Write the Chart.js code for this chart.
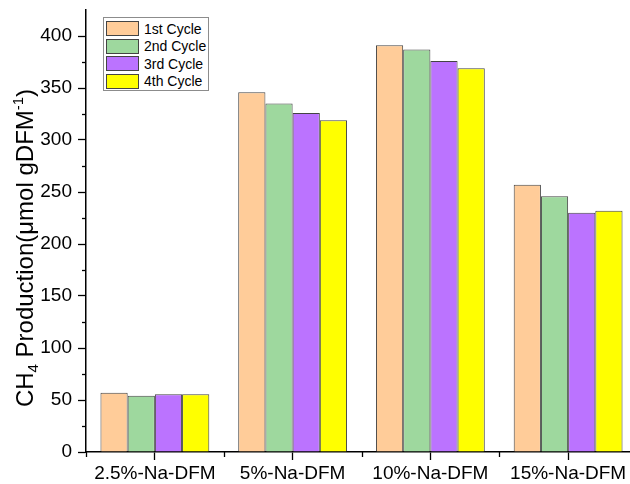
<!DOCTYPE html>
<html>
<head>
<meta charset="utf-8">
<script src="https://cdn.jsdelivr.net/npm/chart.js@4.4.1/dist/chart.umd.min.js"></script>
<style>
  html, body { margin:0; padding:0; background:#fff; overflow:hidden; }
  #wrap { position:relative; width:650px; height:484px; }
  #legend { position:absolute; left:103px; top:17px; width:106px; height:74px;
    border:1px solid #8c8c8c; background:#fff; box-sizing:border-box;
    font-family:"Liberation Sans", Arial, sans-serif; font-size:14px; color:#000; }
  #legend .row { position:absolute; left:2px; height:15px; display:flex; align-items:center; white-space:nowrap; }
  #legend .sw { width:31px; height:13px; border:1px solid #444; margin-right:5px; flex:none; }
</style>
</head>
<body>
<div id="wrap">
  <canvas id="chart"></canvas>
  <div id="legend"></div>
</div>
<script>
/* data */
const categories = ['2.5%-Na-DFM', '5%-Na-DFM', '10%-Na-DFM', '15%-Na-DFM'];
const cycleNames = ['1st Cycle', '2nd Cycle', '3rd Cycle', '4th Cycle'];
const cycle1 = [57, 346, 391, 257];
const cycle2 = [54, 335, 387, 246];
const cycle3 = [55.5, 326, 376, 230];
const cycle4 = [55.5, 319, 369, 232];
const yTicks = [0, 50, 100, 150, 200, 250, 300, 350, 400];
const colors = ['#FFCC99', '#9ED89E', '#BB73FF', '#FFFF00'];

const FONT = '"Liberation Sans", Arial, sans-serif';

/* minor ticks + y title with sub/superscript */
const extras = {
  id: 'extras',
  afterDraw(chart){
    const ctx = chart.ctx, x = chart.scales.x, y = chart.scales.y;
    const left = chart.chartArea.left, bottom = chart.chartArea.bottom;
    ctx.save();
    ctx.strokeStyle = '#000';
    ctx.lineWidth = 1.3;
    // minor y ticks
    for(let v = 25; v < 425; v += 50){
      const py = Math.round(y.getPixelForValue(v)) + 0.5;
      ctx.beginPath(); ctx.moveTo(left - 4, py); ctx.lineTo(left, py); ctx.stroke();
    }
    // minor x ticks at category boundaries
    for(let i = -0.5; i < categories.length; i += 1){
      const px = Math.round(x.getPixelForValue(i)) + 0.5;
      ctx.beginPath(); ctx.moveTo(px, bottom); ctx.lineTo(px, bottom + 5); ctx.stroke();
    }
    // y title
    const parts = [
      {t:'CH', s:24, dy:0},
      {t:'4', s:15, dy:5},
      {t:' Production(\u03bcmol gDFM', s:24, dy:0},
      {t:'-1', s:15, dy:-10},
      {t:')', s:24, dy:0}
    ];
    let total = 0;
    parts.forEach(p => { ctx.font = p.s + 'px ' + FONT; p.w = ctx.measureText(p.t).width; total += p.w; });
    ctx.translate(33, 248);
    ctx.rotate(-Math.PI/2);
    ctx.fillStyle = '#000';
    ctx.textBaseline = 'alphabetic';
    let cx = -total/2;
    parts.forEach(p => { ctx.font = p.s + 'px ' + FONT; ctx.fillText(p.t, cx, p.dy); cx += p.w; });
    ctx.restore();
  }
};

const series = [cycle1, cycle2, cycle3, cycle4];
const datasets = series.map((d, i) => ({
  label: cycleNames[i],
  data: d,
  backgroundColor: colors[i],
  borderColor: '#444',
  borderWidth: 1,
  borderSkipped: 'bottom',
  categoryPercentage: 0.79,
  barPercentage: 1.0
}));

new Chart(document.getElementById('chart'), {
  type: 'bar',
  data: { labels: categories, datasets },
  options: {
    responsive: true,
    maintainAspectRatio: false,
    animation: false,
    layout: { padding: { left: 0, right: 13, top: 10, bottom: 0 } },
    plugins: { legend: { display: false }, tooltip: { enabled: false } },
    scales: {
      x: {
        offset: true,
        grid: { offset: false, drawOnChartArea: false, tickLength: 8, tickColor: '#000', tickWidth: 1.3 },
        border: { color: '#000', width: 1.5 },
        ticks: { color: '#000', font: { family: FONT, size: 19 }, padding: 2, maxRotation: 0 },
        afterFit: s => { s.height = 32; s.paddingLeft = 0; s.paddingRight = 0; }
      },
      y: {
        min: 0, max: 425,
        afterBuildTicks: s => { s.ticks = yTicks.map(v => ({ value: v })); },
        grid: { drawOnChartArea: false, tickLength: 8, tickColor: '#000', tickWidth: 1.3 },
        border: { color: '#000', width: 1.5 },
        ticks: { color: '#000', font: { family: FONT, size: 19 }, padding: 6 },
        afterFit: s => { s.width = 86; s.paddingTop = 0; s.paddingBottom = 0; }
      }
    }
  },
  plugins: [extras]
});

/* html legend built from the datasets */
const legend = document.getElementById('legend');
datasets.forEach((ds, i) => {
  const row = document.createElement('div');
  row.className = 'row';
  row.style.top = (3 + i * 17.5) + 'px';
  row.innerHTML = '<span class="sw" style="background:' + ds.backgroundColor + '"></span><span>' + ds.label + '</span>';
  legend.appendChild(row);
});
</script>
</body>
</html>
